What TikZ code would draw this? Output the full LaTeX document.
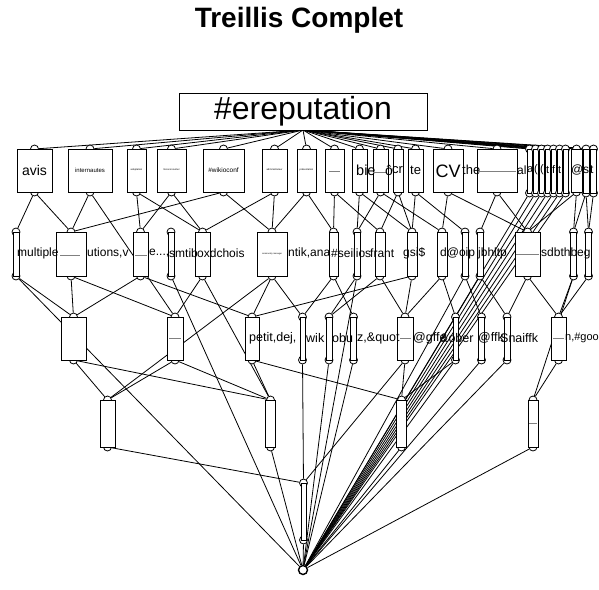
\documentclass[tikz,border=0pt]{standalone}
\usepackage{fontspec}
\setmainfont{Liberation Sans}
\pgfdeclarelayer{edges}
\pgfsetlayers{edges,main}
\tikzset{
  circ/.style={circle,draw,fill=white,inner sep=0pt,minimum size=8pt,line width=0.8pt},
  lbox/.style={rectangle,draw,fill=white,inner sep=0pt,line width=0.8pt},
  edge/.style={line width=0.8pt},
  frag/.style={anchor=west,inner sep=0pt},
  ctr/.style={inner sep=0pt},
  tinyline/.style={gray,line width=0.5pt},
}
\newcommand\lnode[5]{%
  \node[circ] (#1t) at (#2,#3) {};
  \node[circ] (#1b) at (#2,#4) {};
  \node[lbox,minimum width=#5pt,minimum height={(#4-#3)*1pt}] (#1) at (#2,{(#3+#4)/2}) {};
}
\newcommand\fragt[5]{\node[frag,font=\fontsize{#4}{#4}\selectfont] (#1) at (#2,#3) {#5};}
\newcommand\ctrt[5]{\node[ctr,font=\fontsize{#4}{#4}\selectfont] (#1) at (#2,#3) {#5};}
\begin{document}
\begin{tikzpicture}[x=1pt,y=-1pt]
\useasboundingbox (0,0) rectangle (599,589);
\node[font=\bfseries\fontsize{28}{28}\selectfont] (title) at (299,20) {Treillis Complet};
\node[lbox,minimum width=248pt,minimum height=37pt,font=\fontsize{32}{32}\selectfont] (top) at (303,111.5) {\#ereputation};
\coordinate (topb) at (303,130);
% row 1
\lnode{r1a}{34.5}{149}{192}{35}
\lnode{r1b}{90}{149}{192}{44}
\lnode{r1c}{136.5}{149}{192}{19}
\lnode{r1d}{171.5}{149}{192}{29}
\lnode{r1e}{223.5}{149}{192}{41}
\lnode{r1f}{274.5}{149}{192}{25}
\lnode{r1g}{306.5}{149}{192}{19}
\lnode{r1h}{334.5}{149}{192}{19}
\lnode{r1i}{359.5}{149}{192}{15}
\lnode{r1j}{380.5}{149}{192}{15}
\lnode{r1k}{398}{149}{192}{10}
\lnode{r1l}{415.5}{149}{192}{15}
\lnode{r1m}{448}{149}{192}{30}
\lnode{r1n}{497}{149}{192}{40}
\lnode{r1o}{529.5}{149}{193}{5}
\lnode{r1p}{535.5}{149}{193}{5}
\lnode{r1q}{541.5}{149}{193}{5}
\lnode{r1r}{547.5}{149}{193}{5}
\lnode{r1s}{553.5}{149}{193}{5}
\lnode{r1t}{559.5}{149}{193}{5}
\lnode{r1u}{565.5}{149}{193}{5}
\lnode{r1v}{576.5}{149}{192}{11}
\lnode{r1w}{586}{149}{193}{6}
\lnode{r1x}{593.5}{149}{193}{6}
% row 2
\lnode{r2a}{16}{232}{276}{6}
\lnode{r2b}{71}{232}{276}{30}
\lnode{r2c}{140.5}{232}{276}{15}
\lnode{r2d}{171}{232}{276}{6}
\lnode{r2e}{202.5}{232}{276}{15}
\lnode{r2f}{272}{232}{276}{30}
\lnode{r2g}{333.5}{232}{276}{9}
\lnode{r2h}{357}{232}{276}{6}
\lnode{r2i}{380}{232}{276}{10}
\lnode{r2j}{412}{232}{276}{10}
\lnode{r2k}{442}{232}{276}{10}
\lnode{r2l}{465}{232}{276}{6}
\lnode{r2m}{480}{232}{276}{6}
\lnode{r2n}{527.5}{232}{276}{25}
\lnode{r2o}{573.5}{232}{276}{6}
\lnode{r2p}{588.5}{232}{276}{6}
% row 3
\lnode{r3a}{73.5}{317}{360}{25}
\lnode{r3b}{175}{317}{360}{16}
\lnode{r3c}{252}{317}{360}{14}
\lnode{r3d}{302.5}{317}{360}{5}
\lnode{r3e}{329}{317}{360}{6}
\lnode{r3f}{353.5}{317}{360}{6}
\lnode{r3g}{405}{317}{360}{16}
\lnode{r3h}{455.5}{317}{360}{5}
\lnode{r3i}{481.5}{317}{360}{6}
\lnode{r3j}{507}{317}{360}{6}
\lnode{r3k}{558.5}{317}{360}{15}
% row 4
\lnode{r4a}{107.5}{400}{447}{15}
\lnode{r4b}{270.5}{400}{447}{10}
\lnode{r4c}{401.5}{400}{447}{10}
\lnode{r4d}{533}{400}{447}{10}
% row 5
\lnode{r5}{303.5}{483}{540}{5}
\node[circ,minimum size=9pt,line width=1.4pt] (bot) at (303,570) {};
% edges
\begin{pgfonlayer}{edges}
\foreach \n in {r1at,r1bt,r1ct,r1dt,r1et,r1ft,r1gt,r1ht,r1it,r1jt,r1kt,r1lt,r1mt,r1nt,r1ot,r1pt,r1qt,r1rt,r1st,r1tt,r1ut,r1vt,r1wt,r1xt}
  \draw[edge] (topb) -- (\n);
\foreach \a/\b in {r1ab/r2at, r1ab/r2bt, r1bb/r2bt, r1bb/r3bt, r1cb/r2ct, r1cb/r2et, r1db/r2ct, r1db/r2et, r1eb/r2bt, r1eb/r2ft, r1fb/r2et, r1fb/r2ft, r1gb/r2ft, r1gb/r2gt, r1hb/r2gt, r1hb/r2it, r1ib/r2ht, r1ib/r2jt, r1jb/r2ht, r1jb/r2kt, r1kb/r2it, r1kb/r2jt, r1lb/r2jt, r1lb/r2lt, r1mb/r2kt, r1mb/r2nt, r1nb/r2mt, r1nb/r2nt, r1ob/bot, r1pb/bot, r1qb/bot, r1rb/bot, r1sb/bot, r1tb/bot, r1ub/bot, r1vb/r2nt, r1vb/r2ot, r1wb/r2ot, r1wb/r2pt, r1xb/r2pt,
r2ab/r3at, r2ab/bot, r2bb/r3at, r2bb/r3bt, r2cb/r3at, r2cb/r3ct, r2db/bot, r2eb/r3bt, r2eb/r4bt, r2fb/r3ct, r2fb/r4at, r2fb/r3dt, r2gb/r3dt, r2gb/r3ft, r2hb/r3et, r2hb/bot, r2ib/r3et, r2ib/r3gt, r2jb/r3gt, r2jb/r3ct, r2kb/r3gt, r2kb/r3ht, r2lb/r3it, r2lb/bot, r2mb/r3jt, r2mb/bot, r2nb/r3jt, r2nb/r3kt, r2ob/r3kt, r2ob/r4dt, r2pb/r3kt,
r3ab/r4at, r3ab/r4bt, r3bb/r4bt, r3bb/r4at, r3cb/r4bt, r3cb/r4ct, r3db/r5t, r3eb/bot, r3fb/bot, r3gb/r4ct, r3gb/r5t, r3hb/r4ct, r3hb/bot, r3ib/bot, r3jb/bot, r3kb/r4dt,
r4ab/r5t, r4bb/bot, r4cb/bot, r4db/bot, r5b/bot}
  \draw[edge] (\a) -- (\b);
\end{pgfonlayer}
% row 1 texts
\ctrt{t1a}{34.5}{170}{14}{avis}
\ctrt{t1b}{90}{170}{6}{internautes}
\ctrt{t1c}{136.5}{170}{2.5}{adoptation}
\ctrt{t1d}{171.5}{170}{2.5}{\#ecoconsumer}
\ctrt{t1e}{223.5}{170}{6.5}{\#wikioconf}
\ctrt{t1f}{274.5}{170}{2.5}{administrateur}
\ctrt{t1g}{306.5}{170}{2.5}{présentation}
\draw[tinyline] (329,171) -- (340,171);
\fragt{t1i}{356}{170}{14.5}{bie}
\draw[tinyline] (373,172) -- (386,172);
\fragt{t1j}{385}{170}{14}{ô}
\fragt{t1k}{392}{170}{13}{cr}
\fragt{t1l}{410}{170}{13}{te}
\ctrt{t1m}{448}{171}{18}{CV}
\fragt{t1n}{462}{170}{13}{the}
\draw[tinyline] (478,171) -- (516,171);
\fragt{t1n2}{517}{170}{12}{al}
\fragt{t1o}{527}{170}{11}{a}
\fragt{t1p}{534}{170}{11}{(}
\fragt{t1q}{540}{170}{11}{(}
\fragt{t1r}{546}{170}{11}{t}
\fragt{t1s}{552}{170}{11}{f}
\fragt{t1t}{558}{170}{11}{t}
\fragt{t1v}{571}{170}{12}{@}
\fragt{t1w}{583}{170}{12}{s}
\fragt{t1x}{590}{170}{12}{t}
% row 2 texts
\fragt{t2a}{17}{253}{12}{multiple}
\draw[tinyline] (60,255) -- (80,255);
\fragt{t2b}{87}{253}{12}{utions,v}
\draw[tinyline] (135,255) -- (147,255);
\fragt{t2c}{149}{253}{12}{e...,}
\fragt{t2d}{169}{253}{12}{smtib}
\fragt{t2e}{197}{253}{12}{oxdchois}
\ctrt{t2f}{272}{254}{2.2}{community manager}
\fragt{t2g}{288}{253}{12}{ntik,ana}
\fragt{t2h}{331}{253}{12}{\#seilios}
\fragt{t2i}{370}{253}{12}{frant}
\fragt{t2j}{403}{253}{12}{gsi\$}
\fragt{t2k}{440}{253}{12}{d@oip}
\fragt{t2l}{478}{253}{12}{jbhltp}
\draw[tinyline] (516,254) -- (539,254);
\fragt{t2n}{541}{253}{12}{sdbthbeg}
% row 3 texts
\draw[tinyline] (169,338) -- (181,338);
\fragt{t3c}{249}{338}{12.5}{petit,dej,}
\fragt{t3d}{306}{338}{12.5}{wik}
\fragt{t3e}{332}{338}{12.5}{obu}
\fragt{t3f}{357}{338}{12.5}{z,\&quot}
\draw[tinyline] (400,338) -- (411,338);
\fragt{t3g}{413}{338}{12.5}{@gffe}
\fragt{t3h}{440}{338}{12.5}{\&ober}
\fragt{t3i}{478}{338}{12.5}{@ffk}
\fragt{t3j}{500}{338}{12.5}{Snaiffk}
\draw[tinyline] (553,338) -- (564,338);
\fragt{t3k}{565}{338}{11}{n,\#goo}
% row 4
\draw[tinyline] (529,423) -- (537,423);
\end{tikzpicture}
\end{document}
